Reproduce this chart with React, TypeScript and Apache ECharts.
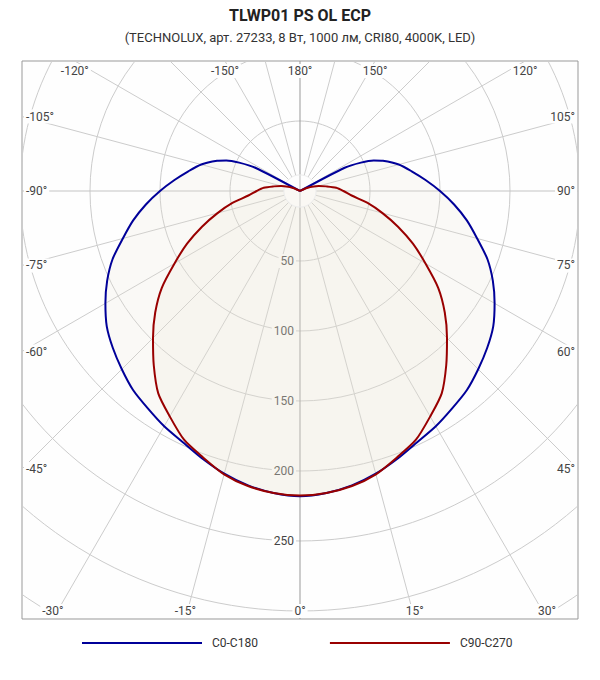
import React, { useEffect, useRef } from "react";
import * as echarts from "echarts";

// ---- data (luminous intensity, cd/klm) ----
const ANGLES = [
  0, 5, 10, 15, 20, 25, 30, 35, 40, 45, 50, 55, 60, 65, 70, 75, 80, 85, 90, 95, 100, 105, 110,
  112.5, 115, 117.5,
  120, 125, 130, 135, 140, 145, 150, 155, 160, 165, 170, 175, 180,
];
const C0_C180 = [
  218, 216.5, 213.5, 209, 203.5, 198, 194, 189.5, 185.5, 180, 174.5, 168.5, 160.5, 152, 142.5, 131, 121, 110.5, 100, 90, 81, 73, 63,
  57, 48, 36,
  0, 0, 0, 0, 0, 0, 0, 0, 0, 0, 0, 0, 0,
];
const C90_C270 = [
  217.5, 216.5, 214, 209.5, 202.5, 196, 186, 176.5, 162.5, 148.5, 135, 120.5, 103.5, 89, 74.5, 61, 49, 37, 31, 26, 19, 14, 9,
  6, 3, 1,
  0, 0, 0, 0, 0, 0, 0, 0, 0, 0, 0, 0, 0,
];
const SERIES_NAMES = ["C0-C180", "C90-C270"];
const CIRCLE_RADII = [50, 100, 150, 200, 250, 300, 350];
const RADIUS_LABELS = [50, 100, 150, 200, 250];
const GRID_ANGLES = [
  -165, -150, -135, -120, -105, -90, -75, -60, -45, -30, -15, 0,
  15, 30, 45, 60, 75, 90, 105, 120, 135, 150, 165, 180,
];
const ANGLE_LABELS = [
  -120, -150, 180, 150, 120, -105, 105, -90, 90, -75, 75, -60, 60, -45, 45, -30, -15, 0, 15, 30,
];
const TITLE = "TLWP01 PS OL ECP";
const SUBTITLE = "(TECHNOLUX, арт. 27233, 8 Вт, 1000 лм, CRI80, 4000K, LED)";

// axis extents in cd units
const X_MIN = -198.571;
const X_MAX = 198.571;
const Y_MIN = -305.714;
const Y_MAX = 92.857;
const INNER_R = 11.5;

const BLUE = "#000099";
const RED = "#990000";
const FILL = "rgba(235,228,210,0.18)";
const FONT = "Roboto";
const SMOOTH = 0.25;

function toXY(deg: number, v: number, side: number): number[] {
  const a = (deg * Math.PI) / 180;
  return [side * v * Math.sin(a), -v * Math.cos(a)];
}

function curve(vals: number[]): number[][] {
  const left = ANGLES.map((a, i) => toXY(a, vals[i], -1)).reverse();
  const right = ANGLES.map((a, i) => toXY(a, vals[i], 1));
  return [...left, ...right];
}

export default function App() {
  const ref = useRef<HTMLDivElement>(null);

  useEffect(() => {
    document.body.style.margin = "0";
    if (!ref.current) return;
    const chart = echarts.init(ref.current, undefined, { renderer: "svg" });

    const blue = curve(C0_C180);
    const red = curve(C90_C270);

    const fillSeries = (pts: number[][], z: number) => ({
      type: "custom",
      silent: true,
      clip: true,
      z,
      data: [[0, 0]],
      renderItem: (_p: any, api: any) => ({
        type: "polygon",
        shape: { points: pts.map((p) => api.coord(p)), smooth: SMOOTH },
        style: { fill: FILL, stroke: "none" },
      }),
    });

    const option: any = {
      animation: false,
      textStyle: { fontFamily: FONT },
      title: [
        {
          text: TITLE,
          left: "center",
          top: 7,
          padding: 0,
          textStyle: { fontFamily: FONT, fontWeight: "bold", fontSize: 16, color: "#222" },
        },
        {
          text: SUBTITLE,
          left: "center",
          top: 31,
          padding: 0,
          textStyle: { fontFamily: FONT, fontWeight: "normal", fontSize: 13, color: "#333" },
        },
      ],
      legend: {
        data: SERIES_NAMES.map((n) => ({ name: n, icon: "rect" })),
        left: 82,
        top: 637,
        padding: 0,
        itemWidth: 120,
        itemHeight: 2,
        itemGap: 72,
        selectedMode: false,
        textStyle: { fontFamily: FONT, fontSize: 12, color: "#333", padding: [0, 0, 0, 5] },
      },
      grid: {
        left: 22,
        right: 22,
        top: 61,
        bottom: 61,
        show: true,
        borderColor: "#999",
        borderWidth: 1,
        backgroundColor: "#fefefe",
      },
      xAxis: { type: "value", min: X_MIN, max: X_MAX, show: false },
      yAxis: { type: "value", min: Y_MIN, max: Y_MAX, show: false },
      series: [
        {
          type: "custom",
          silent: true,
          clip: true,
          z: 1,
          data: CIRCLE_RADII.map((r) => [r]),
          renderItem: (_p: any, api: any) => {
            const c = api.coord([0, 0]);
            const rp = api.size([api.value(0), 0])[0];
            return {
              type: "circle",
              shape: { cx: c[0], cy: c[1], r: rp },
              style: { fill: "none", stroke: "#cccccc", lineWidth: 1 },
            };
          },
        },
        {
          type: "custom",
          silent: true,
          clip: true,
          z: 1,
          data: GRID_ANGLES.map((a) => [a]),
          renderItem: (_p: any, api: any) => {
            const a = api.value(0);
            const full = a === 0 || a === 180;
            const r0 = full ? 0 : INNER_R;
            const p0 = api.coord(toXY(a, r0, 1));
            const p1 = api.coord(toXY(a, 700, 1));
            return {
              type: "line",
              shape: { x1: p0[0], y1: p0[1], x2: p1[0], y2: p1[1] },
              style: { stroke: full ? "#999999" : Math.abs(a) === 90 ? "#c4c4c4" : "#cccccc", lineWidth: 1 },
            };
          },
        },
        {
          type: "custom",
          silent: true,
          z: 2,
          data: RADIUS_LABELS.map((r) => [r]),
          renderItem: (_p: any, api: any) => {
            const r = api.value(0);
            const p = api.coord([0, -r]);
            return {
              type: "text",
              x: p[0] - 4,
              y: p[1],
              style: {
                text: String(r),
                align: "right",
                verticalAlign: "middle",
                fill: "#444",
                font: `12px ${FONT}`,
                backgroundColor: "#fefefe",
                padding: [1, 2],
              },
            };
          },
        },
        fillSeries(blue, 3),
        fillSeries(red, 3),
        {
          type: "custom",
          silent: true,
          z: 4,
          data: [[0, 0]],
          renderItem: (_p: any, api: any) => {
            const c = api.coord([0, 0]);
            const rp = api.size([INNER_R, 0])[0];
            return {
              type: "circle",
              shape: { cx: c[0], cy: c[1], r: rp },
              style: { fill: "rgba(255,255,255,0.35)", stroke: "#ececec", lineWidth: 1 },
            };
          },
        },
        {
          type: "line",
          name: SERIES_NAMES[0],
          data: blue,
          showSymbol: false,
          symbol: "none",
          smooth: SMOOTH,
          clip: true,
          silent: true,
          z: 5,
          lineStyle: { color: BLUE, width: 2 },
          itemStyle: { color: BLUE },
        },
        {
          type: "line",
          name: SERIES_NAMES[1],
          data: red,
          showSymbol: false,
          symbol: "none",
          smooth: SMOOTH,
          clip: true,
          silent: true,
          z: 5,
          lineStyle: { color: RED, width: 2 },
          itemStyle: { color: RED },
        },
        {
          type: "custom",
          silent: true,
          z: 6,
          data: ANGLE_LABELS.map((a) => [a]),
          renderItem: (params: any, api: any) => {
            const a = api.value(0);
            const rad = (a * Math.PI) / 180;
            const c = api.coord([0, 0]);
            const cs = params.coordSys;
            const dx = Math.sin(rad);
            const dy = Math.cos(rad);
            let t = Infinity;
            let edge = "";
            if (dx > 1e-9) {
              const tt = (cs.x + cs.width - c[0]) / dx;
              if (tt < t) { t = tt; edge = "right"; }
            }
            if (dx < -1e-9) {
              const tt = (cs.x - c[0]) / dx;
              if (tt < t) { t = tt; edge = "left"; }
            }
            if (dy > 1e-9) {
              const tt = (cs.y + cs.height - c[1]) / dy;
              if (tt < t) { t = tt; edge = "bottom"; }
            }
            if (dy < -1e-9) {
              const tt = (cs.y - c[1]) / dy;
              if (tt < t) { t = tt; edge = "top"; }
            }
            let x = c[0] + dx * t;
            let y = c[1] + dy * t;
            let align = "center";
            if (edge === "left") { x += 2; align = "left"; }
            else if (edge === "right") { x -= 1; align = "right"; }
            else if (edge === "top") { y += 10; }
            else { y -= 8; }
            return {
              type: "text",
              x,
              y,
              style: {
                text: `${a}°`,
                align,
                verticalAlign: "middle",
                fill: "#444",
                font: `12px ${FONT}`,
                backgroundColor: "#fefefe",
                padding: [1, 2],
              },
            };
          },
        },
      ],
    };

    chart.setOption(option);
    return () => chart.dispose();
  }, []);

  return <div ref={ref} style={{ width: 600, height: 680 }} />;
}
